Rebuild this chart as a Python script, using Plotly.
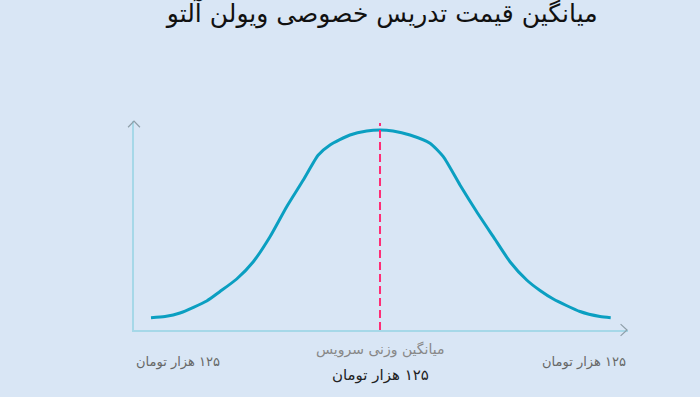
import plotly.graph_objects as go

# ---- data ----
curve_x = [3.44, 6.28, 9.31, 14.72, 17.41, 20.79, 24.15, 27.53, 30.91, 34.27, 37.31,
           39.68, 43.72, 47.11, 49.80, 52.43, 55.87, 59.92, 62.61, 65.99, 69.37,
           72.73, 76.11, 79.49, 82.19, 84.88, 90.28, 94.33, 96.50]
curve_y = [5.89, 6.46, 8.13, 13.88, 18.42, 24.40, 32.68, 44.64, 59.00, 71.77, 83.73,
           88.52, 93.30, 95.22, 95.69, 95.22, 93.30, 89.33, 82.92, 69.38, 56.60,
           44.64, 32.68, 23.92, 18.90, 14.83, 8.85, 6.46, 5.89]
mean_x = 49.8
mean_top = 99.0

title_text = "میانگین قیمت تدریس خصوصی ویولن آلتو"
left_label = "۱۲۵ هزار تومان"
right_label = "۱۲۵ هزار تومان"
mean_caption = "میانگین وزنی سرویس"
mean_label = "۱۲۵ هزار تومان"

BG = "#d9e6f5"
FONT = "DejaVu Sans"


def rtl(s):
    return "\u202b" + s + "\u202c"


fig = go.Figure()
fig.add_trace(go.Scatter(
    x=curve_x, y=curve_y, mode="lines",
    line=dict(color="#0b9fc1", width=3, shape="spline", smoothing=0.6),
    hoverinfo="skip", showlegend=False))
fig.add_trace(go.Scatter(
    x=[mean_x, mean_x], y=[0, mean_top], mode="lines",
    line=dict(color="#ff2d76", width=2, dash="8px,4px"),
    hoverinfo="skip", showlegend=False))

axis_common = dict(showgrid=False, zeroline=False, showticklabels=False, ticks="",
                   showline=True, linecolor="#a6d8e8", linewidth=2, fixedrange=True)
fig.update_xaxes(range=[0, 100], **axis_common)
fig.update_yaxes(range=[0, 100], **axis_common)

# arrow heads (open chevrons) at the ends of the axes
chev = "#8e9ea8"
fig.add_shape(type="path", xref="paper", yref="paper",
              path="M 0.985 0.028 L 0.998 0 L 0.985 -0.028",
              line=dict(color=chev, width=1.2))
fig.add_shape(type="path", xref="paper", yref="paper",
              path="M -0.012 0.97 L 0 1.0 L 0.012 0.97",
              line=dict(color=chev, width=1.2))

annos = [
    dict(text=rtl(left_label), x=0, xanchor="left", y=-0.153, font=dict(size=13, color="#666666")),
    dict(text=rtl(right_label), x=1, xanchor="right", y=-0.153, font=dict(size=13, color="#666666")),
    dict(text=rtl(mean_caption), x=mean_x / 100, xanchor="center", y=-0.092,
         font=dict(size=14, color="#888888")),
    dict(text=rtl(mean_label), x=mean_x / 100, xanchor="center", y=-0.215,
         font=dict(size=15, color="#222222")),
]
for a in annos:
    fig.add_annotation(xref="paper", yref="paper", yanchor="middle", showarrow=False,
                       font_family=FONT, **a)

fig.update_layout(
    width=700, height=397,
    margin=dict(l=134, r=72, t=121, b=67),
    paper_bgcolor=BG, plot_bgcolor=BG,
    font=dict(family=FONT),
    title=dict(text=rtl(title_text), x=0.546, xanchor="center", y=0.966, yanchor="middle",
               font=dict(size=25, color="#111111", family=FONT)),
    showlegend=False,
)

fig.write_html("out.html", config={"displayModeBar": False},
               post_script="document.body.style.margin='0';document.body.style.padding='0';")
